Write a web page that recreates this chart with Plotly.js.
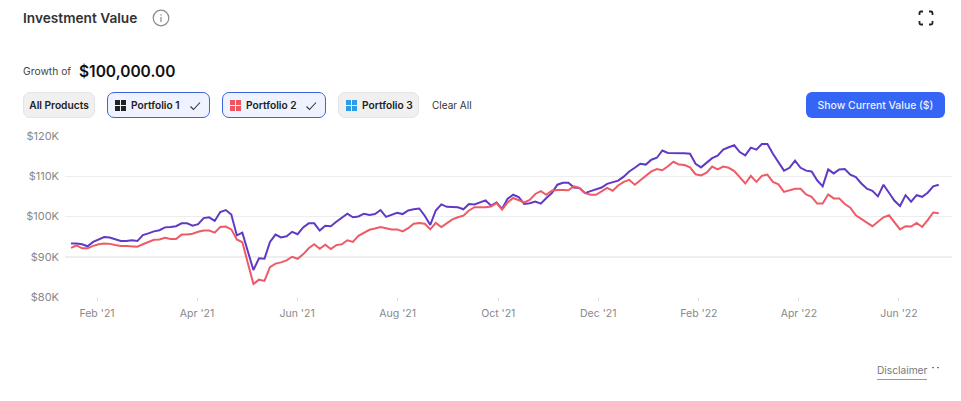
<!DOCTYPE html>
<html><head><meta charset="utf-8">
<script src="https://cdn.plot.ly/plotly-3.0.1.min.js"></script>
<style>
html,body{margin:0;padding:0;background:#fff;width:961px;height:401px;overflow:hidden;font-family:Inter,sans-serif}
#chart{position:absolute;left:0;top:0;width:961px;height:401px}
.o{position:absolute;white-space:nowrap;box-sizing:border-box}
.btn{height:26px;top:92px;border-radius:7px;background:#f0f0f0;border:1px solid #e4e4e4;font-size:10.2px;font-weight:600;color:#222;display:flex;align-items:center}
.sel{background:#eef3ff;border:1px solid #3d63dd}
.sq{display:inline-grid;grid-template-columns:5px 5px;gap:1px;margin-right:5px}
.sq i{width:5px;height:5px;display:block;background:currentColor}
.chk{position:absolute;right:8px;top:7px}
</style></head><body>
<div id="chart"></div>
<div class="o" style="left:23px;top:10px;font-size:13.7px;font-weight:600;color:#333;line-height:17px">Investment Value</div>
<svg class="o" style="left:152px;top:9px" width="18" height="18"><circle cx="9" cy="9" r="7.8" fill="none" stroke="#8a8a8a" stroke-width="1.2"/><rect x="8.4" y="8" width="1.2" height="5" fill="#8a8a8a"/><rect x="8.4" y="5.2" width="1.2" height="1.4" fill="#8a8a8a"/></svg>
<svg class="o" style="left:918px;top:10px" width="16" height="16" fill="none" stroke="#222" stroke-width="1.8"><path d="M1.5 5V3Q1.5 1.5 3 1.5H5M11 1.5H13Q14.5 1.5 14.5 3V5M14.5 11V13Q14.5 14.5 13 14.5H11M5 14.5H3Q1.5 14.5 1.5 13V11"/></svg>
<div class="o" style="left:23px;top:64px;font-size:10.3px;color:#444;line-height:14px">Growth of</div>
<div class="o" style="left:79px;top:62px;font-size:15.5px;font-weight:600;color:#111;line-height:19px">$100,000.00</div>
<div class="o btn" style="left:23px;width:72px;justify-content:center">All Products</div>
<div class="o btn sel" style="left:107px;width:103px;padding-left:7px"><span class="sq" style="color:#222"><i></i><i></i><i></i><i></i></span>Portfolio 1<svg class="chk" width="12" height="12" fill="none" stroke="#333" stroke-width="1.1"><path d="M1.5 6.5L4.5 9.5L11 2.5"/></svg></div>
<div class="o btn sel" style="left:222px;width:104px;padding-left:7px"><span class="sq" style="color:#ee5560"><i></i><i></i><i></i><i></i></span>Portfolio 2<svg class="chk" width="12" height="12" fill="none" stroke="#333" stroke-width="1.1"><path d="M1.5 6.5L4.5 9.5L11 2.5"/></svg></div>
<div class="o btn" style="left:338px;width:81px;padding-left:7px"><span class="sq" style="color:#2e9be6"><i></i><i></i><i></i><i></i></span>Portfolio 3</div>
<div class="o" style="left:432px;top:98px;font-size:10px;color:#333;line-height:14px">Clear All</div>
<div class="o" style="left:806px;top:92px;width:139px;height:26px;border-radius:6px;background:#3565f5;color:#eaf0ff;font-size:10.4px;font-weight:500;display:flex;align-items:center;justify-content:center">Show Current Value ($)</div>
<div class="o" style="left:877px;top:363px;font-size:10.2px;color:#777;line-height:14px">Disclaimer</div>
<div class="o" style="left:877px;top:379px;width:50px;height:1px;background:#999"></div>
<svg class="o" style="left:931px;top:366px" width="10" height="4"><rect x="1" y="1" width="2" height="1.2" fill="#777"/><rect x="6" y="1" width="2" height="1.2" fill="#777"/></svg>
<script>
var tickPositions = [4.7, 22.8, 40.9, 59.1, 77.3, 95.4, 113.6, 131.7, 149.8];
var tickLabels = ["Feb '21", "Apr '21", "Jun '21", "Aug '21", "Oct '21", "Dec '21", "Feb '22", "Apr '22", "Jun '22"];
var yTicks = [80, 90, 100, 110, 120];
var yLabels = ["$80K", "$90K", "$100K", "$110K", "$120K"];
var portfolio1 = [
93.3,93.3,93.1,92.6,93.7,94.4,94.9,94.8,94.4,93.9,93.9,94.1,93.9,95.4,95.8,96.3,96.6,97.3,97.4,97.6,98.3,98.3,97.7,98.1,99.6,99.8,98.9,101.1,101.6,100.5,95.3,96,91.3,86.7,89.6,89.5,93.7,95.5,94.8,95.1,96.2,95.6,97.3,98.3,98.3,96.5,97.7,97.6,98.7,99.8,100.7,99.8,100,
100.7,100.4,100.6,101.6,99.9,100.4,100.9,100.6,101.5,101.8,102,100.2,97.9,101.5,103,102.4,102.3,102.3,101.8,103.1,103,103.5,104,102.7,103.5,101.9,104.4,105.4,104.8,103.1,103.3,103.7,103.2,104.6,105.8,107.9,108.4,108.4,107.2,107.1,105.8,106.3,106.8,107.2,108.1,108.5,108.9,109.9,111.2,
112.1,113.1,112.9,114.1,114.6,116.4,115.8,115.8,115.7,115.7,115.6,113.1,112.2,113.4,114.5,115.1,116.6,117.2,117.7,116,115.2,117.1,116.6,118,118,115.6,113.6,111.4,112.1,113.9,112.1,111.4,111.2,109,107.5,111.7,110.7,111.7,111.8,110.4,109.8,108.2,106.9,106.4,105,107.9,105.9,103.9,102.6,105.3,103.7,105.3,104.9,105.9,107.5,107.9];
var portfolio2 = [
92.2,92.8,92.1,92.1,92.7,93.1,93.3,93.2,92.9,92.7,92.7,92.6,92.5,93.1,93.6,94.2,94.3,94.7,94.4,94.4,95.5,95.5,95.7,96.2,96.5,96.5,96,97.4,97.5,96.8,94.3,93.6,88.4,83.2,84.3,84,87.4,88.3,88.6,89.1,90,89.5,90.6,92.1,93.1,92,93,91.9,92.9,93.1,94.1,93.7,95.2,
96,96.7,97,97.4,97.1,96.8,96.8,96.3,97.1,98.2,98.4,98.2,96.8,98.4,97.4,98.4,99.3,99.8,100.2,101.5,102.3,102.3,102.3,102.5,103.3,101.7,103.5,104.6,104.1,103.5,104.1,105.6,106.3,105.4,106.4,106.6,106.6,106.5,107.5,107.1,105.8,105.4,105.4,106.3,107.1,106.4,107.7,108.6,109.1,
107.9,109,110.2,111.2,111.8,111.5,112.5,113.6,112.9,112.8,112.2,110.5,110.2,110.9,112.4,111.7,112.4,112.1,111.3,109.8,108.2,110.1,108.6,110.1,110.4,108.6,108,106.1,106.5,106.9,106.9,105.5,104.9,103.2,103.2,105.5,104.5,104.5,103.1,102.2,100.3,99.3,98.5,97.6,98.7,99.8,100.3,98.5,96.8,97.6,97.5,98.4,97.4,99.1,101,100.8];
var pointIndex = portfolio1.map(function(_, i){ return i; });
var traces = [
  {x: pointIndex, y: portfolio1, name: "Portfolio 1", type: "scatter", mode: "lines", line: {color: "#6039c4", width: 2}, hoverinfo: "skip"},
  {x: pointIndex, y: portfolio2, name: "Portfolio 2", type: "scatter", mode: "lines", line: {color: "#ee5a66", width: 2}, hoverinfo: "skip"}
];
var layout = {
  width: 961, height: 401,
  margin: {l: 65, r: 9, t: 136, b: 104, pad: 0},
  paper_bgcolor: "#fff", plot_bgcolor: "#fff",
  showlegend: false,
  font: {family: "Inter, sans-serif", size: 10.5, color: "#888"},
  xaxis: {range: [-1.09, 159.4], tickmode: "array", tickvals: tickPositions, ticktext: tickLabels,
    showgrid: false, zeroline: false, showline: false, ticks: "outside", ticklen: 3, tickwidth: 1, tickcolor: "#ddd",
    ticklabelstandoff: 3, tickfont: {size: 10.5, color: "#888"}},
  yaxis: {range: [80, 120], tickmode: "array", tickvals: yTicks, ticktext: yLabels,
    showgrid: true, gridcolor: "#eeeeee", gridwidth: 1.5, zeroline: false, showline: false, ticks: "",
    ticklabelstandoff: 5, tickfont: {size: 11, color: "#888"}, automargin: false}
};
Plotly.newPlot("chart", traces, layout, {displayModeBar: false, staticPlot: true});
</script>
</body></html>
